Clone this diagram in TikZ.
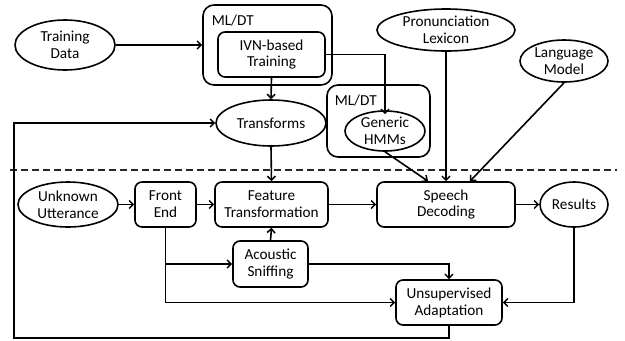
\documentclass[tikz,border=0pt]{standalone}
\usepackage{fontspec}
\setmainfont{Carlito}
\usetikzlibrary{arrows.meta,shapes.geometric}
\begin{document}
\begin{tikzpicture}[x=1bp,y=-1bp, line width=1.6bp,
  every node/.style={font=\fontsize{15.3}{17}\selectfont, align=center, inner sep=0pt},
  ell/.style={draw, ellipse, line width=1.6bp},
  rbox/.style={draw, rounded corners=7bp, line width=1.6bp},
  grp/.style={draw, rounded corners=11bp, line width=1.6bp},
  arr/.style={-{Straight Barb[length=4bp,width=8bp,line width=1.5bp]}}]
\useasboundingbox (0,0) rectangle (625,340);
% upper part
\node[grp, minimum width=129bp, minimum height=80bp] (mldt1) at (267.5,45) {};
\node[anchor=west] (lab1) at (211,21) {ML/DT};
\node[rbox, minimum width=107bp, minimum height=45bp] (ivn) at (271.5,54.5) {IVN-based\\Training};
\node[ell, minimum width=100bp, minimum height=50bp, label={center:{Training\\Data}}] (td) at (65,45) {};
\node[ell, minimum width=110bp, minimum height=46bp, label={center:{Transforms}}] (tr) at (271,123) {};
\node[grp, minimum width=103bp, minimum height=72bp] (mldt2) at (378.5,121) {};
\node[anchor=west] (lab2) at (334,101) {ML/DT};
\node[ell, minimum width=80bp, minimum height=40bp, label={center:{Generic\\HMMs}}] (hmm) at (385,131) {};
\node[ell, minimum width=138bp, minimum height=42bp, label={center:{Pronunciation\\Lexicon}}] (pl) at (446,30) {};
\node[ell, minimum width=88bp, minimum height=42bp, label={center:{Language\\Model}}] (lm) at (564,61) {};
% separator
\coordinate (dl) at (10,170);
\coordinate (dr) at (617,170);
\draw[dash pattern=on 7bp off 4bp, black!85] (dl) -- (dr);
% lower part
\node[ell, minimum width=100bp, minimum height=45bp, label={center:{Unknown\\Utterance}}] (uu) at (68,204.5) {};
\node[rbox, minimum width=61bp, minimum height=45bp] (fe) at (165.5,204.5) {Front\\End};
\node[rbox, minimum width=113bp, minimum height=45bp] (ft) at (271.5,204.5) {Feature\\Transformation};
\node[rbox, minimum width=138bp, minimum height=45bp] (sd) at (446,204.5) {Speech\\Decoding};
\node[ell, minimum width=68bp, minimum height=45bp, label={center:{Results}}] (res) at (574,204.5) {};
\node[rbox, minimum width=75bp, minimum height=46bp] (as) at (270.5,264) {Acoustic\\Sniffing};
\node[rbox, minimum width=106bp, minimum height=45bp] (ua) at (449,302.5) {Unsupervised\\Adaptation};
% connectors
\draw[arr] (td.east) -- (mldt1.west);
\draw[arr] (ivn.south) -- (tr.north);
\draw[arr] (ivn.east) -| ([yshift=-4bp]hmm.north);
\draw[arr] (tr.south) -- (ft.north);
\draw[arr] (as.north) -- (ft.south);
\draw[arr] (uu.east) -- (fe.west);
\draw[arr] (fe.east) -- (ft.west);
\draw[arr] (ft.east) -- (sd.west);
\draw[arr] (sd.east) -- (res.west);
\draw[arr] (hmm.south) -- ([xshift=-18bp]sd.north);
\draw[arr] (pl.south) -- (sd.north);
\draw[arr] (lm.south) -- ([xshift=24bp]sd.north);
\draw[arr] (fe.south) |- (as.west);
\draw[arr] (fe.south) |- (ua.west);
\draw[arr] (as.east) -| (ua.north);
\draw[arr] (res.south) |- (ua.east);
\coordinate (lp) at (14,338);
\draw[arr] (ua.south) |- (lp) |- (tr.west);
\end{tikzpicture}
\end{document}
